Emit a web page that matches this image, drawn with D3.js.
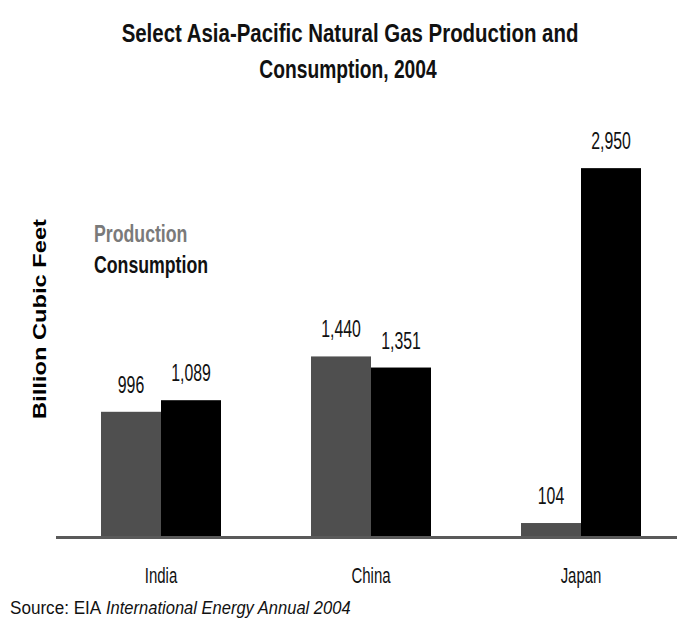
<!DOCTYPE html>
<meta charset="utf-8">
<script src="https://d3js.org/d3.v7.min.js"></script>
<style>
    body { margin: 0; background: #fff; }
    text { font-family: Arial, "Liberation Sans", sans-serif; }
</style>
<div id="my_dataviz"></div>
<script>
    // data
    var countries = ["India", "China", "Japan"];
    var series = ["Production", "Consumption"];
    var production = [996, 1440, 104];
    var consumption = [1089, 1351, 2950];

    var width = 677, height = 627;

    var svg = d3.select("#my_dataviz")
        .append("svg")
        .attr("width", width)
        .attr("height", height);

    var colors = { Production: "#4f4f4f", Consumption: "#000000" };

    // scales
    var x = d3.scaleBand()
        .domain(countries)
        .range([56, 686])
        .paddingInner(3 / 7)
        .paddingOuter(45 / 210);

    var xSub = d3.scaleBand()
        .domain(series)
        .range([0, x.bandwidth()]);

    var y = d3.scaleLinear()
        .domain([0, 3000])
        .range([536, 536 - 3000 * 0.1247]);

    var rows = countries.map(function (c, i) {
        return { country: c, values: [
            { key: "Production", value: production[i] },
            { key: "Consumption", value: consumption[i] }
        ] };
    });

    // narrow, tall text helper
    function label(sel, sx) {
        return sel.attr("transform", function (d) {
            return "translate(" + d.tx + "," + d.ty + ") scale(" + sx + ",1)";
        });
    }

    // bars
    var groups = svg.append("g")
        .selectAll("g")
        .data(rows)
        .enter()
        .append("g")
        .attr("transform", function (d) { return "translate(" + x(d.country) + ",0)"; });

    groups.selectAll("rect")
        .data(function (d) { return d.values; })
        .enter()
        .append("rect")
        .attr("x", function (d) { return xSub(d.key); })
        .attr("y", function (d) { return y(d.value); })
        .attr("width", xSub.bandwidth())
        .attr("height", function (d) { return y(0) - y(d.value); })
        .style("fill", function (d) { return colors[d.key]; });

    // value labels
    groups.selectAll("text")
        .data(function (d) {
            return d.values.map(function (v) {
                return { tx: xSub(v.key) + xSub.bandwidth() / 2, ty: y(v.value) - 19, value: v.value };
            });
        })
        .enter()
        .append("text")
        .call(label, 0.66)
        .attr("text-anchor", "middle")
        .style("font-size", "24px")
        .style("fill", "#111")
        .text(function (d) { return d3.format(",")(d.value); });

    // baseline
    svg.append("line")
        .attr("x1", 56)
        .attr("x2", width)
        .attr("y1", y(0) + 1.5)
        .attr("y2", y(0) + 1.5)
        .attr("stroke", "#5a5a5a")
        .attr("stroke-width", 3);

    // category labels
    svg.append("g")
        .selectAll("text")
        .data(countries.map(function (c) { return { tx: x(c) + x.bandwidth() / 2, ty: 583, name: c }; }))
        .enter()
        .append("text")
        .call(label, 0.68)
        .attr("text-anchor", "middle")
        .style("font-size", "22px")
        .style("fill", "#111")
        .text(function (d) { return d.name; });

    // title
    svg.append("text")
        .attr("transform", "translate(350,42) scale(0.786,1)")
        .attr("text-anchor", "middle")
        .style("font-size", "26px").style("font-weight", "bold").style("fill", "#111")
        .text("Select Asia-Pacific Natural Gas Production and");
    svg.append("text")
        .attr("transform", "translate(348,78) scale(0.74,1)")
        .attr("text-anchor", "middle")
        .style("font-size", "26px").style("font-weight", "bold").style("fill", "#111")
        .text("Consumption, 2004");

    // y axis label
    svg.append("text")
        .attr("transform", "translate(46,319) rotate(-90)")
        .attr("text-anchor", "middle")
        .attr("textLength", 200).attr("lengthAdjust", "spacingAndGlyphs")
        .style("font-size", "18px").style("font-weight", "bold").style("fill", "#000")
        .text("Billion Cubic Feet");

    // legend
    var legendColors = { Production: "#7a7a7a", Consumption: "#111" };
    svg.selectAll("legendText")
        .data(series)
        .enter()
        .append("text")
        .attr("transform", function (d, i) { return "translate(94," + (242 + i * 31) + ") scale(0.77,1)"; })
        .style("font-size", "23px").style("font-weight", "bold")
        .style("fill", function (d) { return legendColors[d]; })
        .text(function (d) { return d; });

    // source
    svg.append("text")
        .attr("transform", "translate(10,614) scale(0.9,1)")
        .style("font-size", "19px").style("fill", "#111")
        .text("Source: EIA");
    svg.append("text")
        .attr("transform", "translate(106,614) scale(0.87,1)")
        .style("font-size", "19px").style("font-style", "italic").style("fill", "#111")
        .text("International Energy Annual 2004");
</script>
